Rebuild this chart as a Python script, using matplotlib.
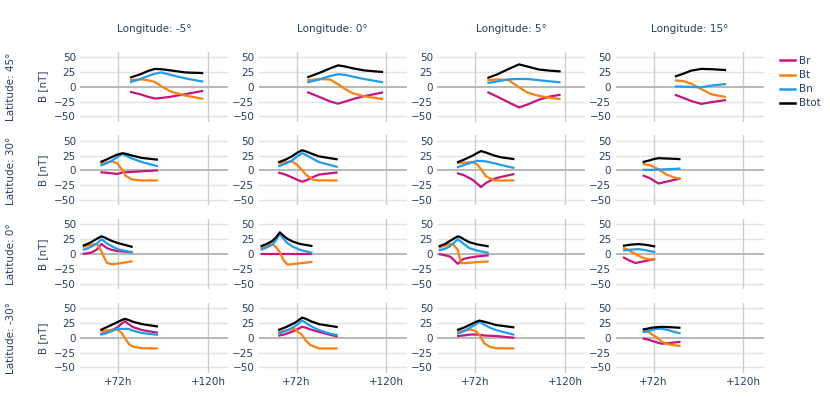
import matplotlib
matplotlib.use("Agg")
import matplotlib.pyplot as plt
from matplotlib.lines import Line2D

# rows = latitude, columns = longitude
lats = [45, 30, 0, -30]
lons = [-5, 0, 5, 15]
names = ["Br", "Bt", "Bn", "Btot"]
colors = ["#c7157f", "#ff7f0e", "#1f9eef", "#000000"]
xticks = [72, 120]
xticklabels = ["+72h", "+120h"]
yticks = [-50, -25, 0, 25, 50]

# latitude 45
t_45_m5 = [78.4, 84, 88, 91.7, 95, 100, 108, 117.5]
br_45_m5 = [-8.5, -13, -17, -20, -19, -17, -12.5, -7]
bt_45_m5 = [11, 12.5, 11, 8, 1, -8, -15, -20.5]
bn_45_m5 = [7.5, 13, 18, 22, 24, 20, 14, 8.5]
btot_45_m5 = [15.3, 21, 26.5, 30, 29.5, 27.5, 24, 23]

t_45_0 = [77.7, 84, 90, 94.2, 98, 102, 108, 118.2]
br_45_0 = [-9, -17, -25, -28.6, -25, -21, -16, -9.6]
bt_45_0 = [10.7, 13, 12, 4, -4, -11, -16, -21]
bn_45_0 = [7.3, 12, 18, 21, 20, 17, 13, 7.3]
btot_45_0 = [15.7, 23, 31, 36, 34, 31, 27.5, 24.7]

t_45_5 = [78.6, 84, 90, 95.5, 100, 106, 112, 117.7]
br_45_5 = [-9, -17, -26.5, -35, -30, -22, -16.5, -13.5]
bt_45_5 = [10.7, 12.5, 11, -1, -10, -15.5, -18.5, -21]
bn_45_5 = [6, 9, 12.5, 13, 13, 11, 9, 7.3]
btot_45_5 = [14.6, 21, 30, 37.6, 34, 29, 27, 25.8]

t_45_15 = [83.4, 88, 92, 97.5, 103, 110.7]
br_45_15 = [-13.5, -19, -24, -29, -26, -22.5]
bt_45_15 = [10.7, 9.5, 5, -4, -13, -17.4]
bn_45_15 = [0.5, 0, -0.5, -1, 2, 4.5]
btot_45_15 = [17, 22, 27, 30, 29.5, 28]

# latitude 30
t_30_m5 = [62.6, 66, 69, 71.5, 74.5, 76, 79.5, 84.8, 93.3]
br_30_m5 = [-3, -4, -5, -6, -3.5, -3, -2.5, -1.5, 0]
bt_30_m5 = [11, 13.5, 15, 12, 0, -9, -15.5, -17, -17]
bn_30_m5 = [8, 12, 17, 22, 28, 25, 20, 14, 7]
btot_30_m5 = [14, 18.5, 23, 26.5, 29, 28, 25, 21, 18]

t_30_0 = [62.2, 66, 69.7, 72.5, 75, 77, 81, 84, 94]
br_30_0 = [-3.4, -7, -12, -16, -19, -17, -11, -7, -3.4]
bt_30_0 = [12, 14, 15, 9, 0, -7, -16, -16.8, -17]
bn_30_0 = [7, 11, 17, 24, 29, 26, 19, 14, 5.6]
btot_30_0 = [13.5, 18, 24, 30, 34, 32, 27, 23.6, 18.5]

t_30_5 = [62.4, 66, 70.8, 73, 75.2, 77.9, 82.3, 86, 93]
br_30_5 = [-4.5, -8, -16, -22, -28, -21, -14, -11, -6]
bt_30_5 = [12, 13, 14, 10.5, 2, -10, -17, -17, -17]
bn_30_5 = [5, 9, 14, 16, 16, 15, 12, 9, 4]
btot_30_5 = [13.5, 18, 25, 29, 32.6, 30, 25, 22, 19]

t_30_15 = [66.2, 70, 72, 74.6, 75.5, 79, 83, 86.4]
br_30_15 = [-8.3, -13, -17, -22, -21.5, -19, -16, -14]
bt_30_15 = [11, 9, 6, 2, 0, -7, -12, -14]
bn_30_15 = [1, 1, 1, 1.5, 1.5, 2, 2.5, 3]
btot_30_15 = [14, 17, 19, 20.5, 20.5, 20, 19.5, 19]

# latitude 0
t_0_m5 = [53.2, 56, 58.1, 60.8, 63.1, 64.5, 66.1, 68.8, 72, 79.8]
br_0_m5 = [0.5, 1.5, 3, 8, 17, 14, 10, 7, 5, 3]
bt_0_m5 = [12, 14.5, 16, 17, 5, -5, -15, -17, -16, -12]
bn_0_m5 = [7, 10, 13, 18, 25, 22, 18, 13, 8, 3]
btot_0_m5 = [14, 17.5, 21, 26, 30, 28.5, 26, 22, 18.5, 12]

t_0_0 = [52.8, 56, 59, 61, 63.1, 65, 67, 69.7, 74, 80.5]
br_0_0 = [0, 0, 0, 0, 0, 0, 0, 0, 0, 0]
bt_0_0 = [10, 13.5, 17, 12, 3, -10, -17.5, -17, -15.5, -13]
bn_0_0 = [7, 11, 16, 23, 34, 26, 19, 13, 7, 2]
btot_0_0 = [13, 17, 22, 28, 36.7, 31, 26, 21.5, 17, 13.5]

t_0_5 = [52.6, 56, 58.5, 60.1, 62.8, 64.5, 66, 69, 73, 79.3]
br_0_5 = [0, -2, -4, -8, -16.5, -11, -8, -6, -4, -2]
bt_0_5 = [10.7, 14, 17, 17.5, 7, -15, -15.5, -14.5, -13.5, -12.4]
bn_0_5 = [6, 9, 13, 17, 25, 21, 17, 10, 6, 2]
btot_0_5 = [13, 17, 22, 25, 30, 28, 25, 20, 16.5, 13]

t_0_15 = [55.7, 58, 60, 62.3, 64.1, 67, 70, 72.9]
br_0_15 = [-5, -9, -12, -15, -14, -12, -10, -8.4]
bt_0_15 = [10.6, 8, 4, 0.5, -3, -7, -9, -7.8]
bn_0_15 = [6, 7, 7.5, 8, 8.4, 7, 5, 3.4]
btot_0_15 = [14, 15, 16, 16.5, 16.8, 16, 14.5, 12.8]

# latitude -30
t_m30_m5 = [62.6, 66, 71.5, 74, 75.6, 77.7, 80, 84.8, 93.3]
br_m30_m5 = [6, 9, 17, 24, 28, 23, 18, 13, 8.5]
bt_m30_m5 = [11, 12.5, 14, 8, 0, -10, -15, -17.5, -18]
bn_m30_m5 = [5, 8, 15, 15, 15, 15, 12, 8, 5]
btot_m30_m5 = [13, 18, 26, 30, 32, 30, 27, 23, 19]

t_m30_0 = [62.2, 66, 71, 75, 77, 79.5, 84, 90, 94]
br_m30_0 = [3.4, 6, 12, 18.6, 17, 14, 10, 5, 2]
bt_m30_0 = [9.6, 12, 14.7, 4.5, -5, -12.4, -18, -18, -18]
bn_m30_0 = [7, 11, 19, 29, 25, 20, 13, 7, 4.5]
btot_m30_0 = [13, 17.5, 25, 34, 32, 28, 23, 20, 18]

t_m30_5 = [62.4, 66, 70, 72.5, 74.3, 77, 80, 83.2, 93]
br_m30_5 = [2.8, 4, 5.6, 5.5, 5, 3.8, 3.4, 3, 0]
bt_m30_5 = [10, 12, 14, 11, 5, -9.6, -15.5, -17.5, -18]
bn_m30_5 = [6.8, 11, 18, 23, 27, 22, 17, 13, 5]
btot_m30_5 = [13, 17, 23, 27, 29, 27, 24.5, 21.5, 17.5]

t_m30_15 = [66.2, 69, 71.1, 74, 76.4, 80, 83, 86.4]
br_m30_15 = [-1, -3, -5, -8, -10, -9, -8, -6.7]
bt_m30_15 = [12.8, 10.5, 6, 0, -6.7, -11, -12.5, -14]
bn_m30_15 = [9.5, 11, 13, 15.5, 15, 13, 10, 7.3]
btot_m30_15 = [14, 15.5, 17, 18, 18.4, 18, 17.5, 16.8]

panels = {
    (45, -5): (t_45_m5, [br_45_m5, bt_45_m5, bn_45_m5, btot_45_m5]),
    (45, 0): (t_45_0, [br_45_0, bt_45_0, bn_45_0, btot_45_0]),
    (45, 5): (t_45_5, [br_45_5, bt_45_5, bn_45_5, btot_45_5]),
    (45, 15): (t_45_15, [br_45_15, bt_45_15, bn_45_15, btot_45_15]),
    (30, -5): (t_30_m5, [br_30_m5, bt_30_m5, bn_30_m5, btot_30_m5]),
    (30, 0): (t_30_0, [br_30_0, bt_30_0, bn_30_0, btot_30_0]),
    (30, 5): (t_30_5, [br_30_5, bt_30_5, bn_30_5, btot_30_5]),
    (30, 15): (t_30_15, [br_30_15, bt_30_15, bn_30_15, btot_30_15]),
    (0, -5): (t_0_m5, [br_0_m5, bt_0_m5, bn_0_m5, btot_0_m5]),
    (0, 0): (t_0_0, [br_0_0, bt_0_0, bn_0_0, btot_0_0]),
    (0, 5): (t_0_5, [br_0_5, bt_0_5, bn_0_5, btot_0_5]),
    (0, 15): (t_0_15, [br_0_15, bt_0_15, bn_0_15, btot_0_15]),
    (-30, -5): (t_m30_m5, [br_m30_m5, bt_m30_m5, bn_m30_m5, btot_m30_m5]),
    (-30, 0): (t_m30_0, [br_m30_0, bt_m30_0, bn_m30_0, btot_m30_0]),
    (-30, 5): (t_m30_5, [br_m30_5, bt_m30_5, bn_m30_5, btot_m30_5]),
    (-30, 15): (t_m30_15, [br_m30_15, bt_m30_15, bn_m30_15, btot_m30_15]),
}

txt = "#2a3f5f"
W, H = 830, 415
fig = plt.figure(figsize=(W / 100, H / 100), dpi=100)

lefts = [80, 258.5, 437, 615.5]
tops = [51.7, 135.4, 219.1, 302.8]
aw, ah = 148, 70

for i, lat in enumerate(lats):
    for j, lon in enumerate(lons):
        ax = fig.add_axes([lefts[j] / W, 1 - (tops[i] + ah) / H, aw / W, ah / H])
        t, series = panels[(lat, lon)]
        for vals, c, n in zip(series, colors, names):
            ax.plot(t, vals, color=c, lw=1.6, solid_capstyle="butt", zorder=3)
        ax.set_xlim(51.7, 130.7)
        ax.set_ylim(-59, 59)
        ax.set_yticks(yticks)
        ax.set_xticks(xticks)
        ax.set_xticklabels(xticklabels if i == 3 else [])
        for y in yticks:
            if y == 0:
                ax.axhline(0, color="#b8b8b8", lw=1.4, zorder=1)
            else:
                ax.axhline(y, color="#e3e3e3", lw=1, zorder=0)
        for x in xticks:
            ax.axvline(x, color="#cccccc", lw=1, zorder=0)
        for s in ax.spines.values():
            s.set_visible(False)
        ax.tick_params(length=0, pad=3, labelsize=7.5, colors=txt)
        if j == 0:
            ax.set_ylabel("B [nT]", fontsize=7.5, color=txt, labelpad=4)
        if i == 0:
            ax.set_title(f"Longitude: {lon}°", fontsize=7.5, color=txt, pad=14)
    fig.text(11 / W, 1 - (tops[i] + ah / 2) / H, f"Latitude: {lat}°",
             rotation=90, ha="center", va="center", fontsize=7.5, color=txt)

handles = [Line2D([0], [0], color=c, lw=1.8) for c in colors]
fig.legend(handles, names, loc="upper left", bbox_to_anchor=(780 / W, 1 - 56 / H),
           frameon=False, fontsize=7.5, handlelength=1.45, handletextpad=0.35,
           labelspacing=0.4, borderpad=0, borderaxespad=0, labelcolor=txt)

fig.savefig("out.png", dpi=100)
